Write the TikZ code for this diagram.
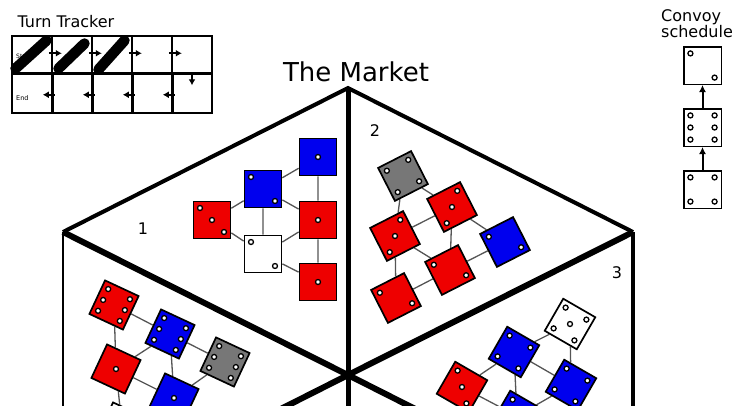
\documentclass[tikz,border=0pt]{standalone}
\usepackage{fontspec}
\setmainfont{DejaVu Sans}
\usetikzlibrary{
	arrows.meta,
	calc,
	backgrounds
}
\definecolor{DieRed}{HTML}{EE0000}
\definecolor{DieBlue}{HTML}{0000EE}
\definecolor{DieGray}{HTML}{777777}
\definecolor{LinkGray}{HTML}{555555}
\newcommand\diepips[2]{\foreach \a in {#2}{\draw[pip] ($(#1.center)!0.62!(#1.\a)$) circle (2.5pt);}}

\begin{document}
\begin{tikzpicture}[x=1pt,y=-1pt,
 font=\fontsize{16}{18}\selectfont,
 die/.style={draw=black,line width=1.7pt,minimum size=37pt,inner sep=0pt},
 reddie/.style={die,fill=DieRed},
 bluedie/.style={die,fill=DieBlue},
 graydie/.style={die,fill=DieGray},
 whitedie/.style={die,fill=white},
 pip/.style={draw=black,fill=white,line width=1.3pt},
 link/.style={draw=LinkGray,line width=1.3pt},
 wall/.style={line width=6pt},
 cell/.style={draw,line width=1.6pt,minimum width=40pt,minimum height=38.5pt,inner sep=0pt},
 pill/.style={line width=10.5pt,line cap=round},
 turn/.style={-{Latex[length=6pt,width=7pt]},line width=2pt},
 sched/.style={-{Latex[length=7pt,width=7pt]},line width=2pt}
]
 \useasboundingbox (0,0) rectangle (742,405);
 \clip (0,0) rectangle (742,405);

 \coordinate (top) at (348,88);
 \coordinate (ul) at (63,232);
 \coordinate (ur) at (633,232);
 \coordinate (mid) at (348,375);
 \coordinate (ll) at (63,519);
 \coordinate (lr) at (633,519);
 \coordinate (bot) at (348,662);
 \draw[line width=4pt] (ul)--(top)--(ur);
 \draw[line width=2pt] (ul)--(ll);
 \draw[line width=3.5pt] (ur)--(lr);
 \draw[wall] (mid)--(ul) (mid)--(ur) (mid)--(ll) (mid)--(lr);
 \draw[line width=5pt] (top)--(bot);

 \node[font=\fontsize{26}{30}\selectfont] (title) at (356,72) {The Market};
 \node (n1) at (143,229) {1};
 \node (n2) at (375,131) {2};
 \node (n3) at (617,273) {3};

 % market 1
 \node[bluedie] (a1) at (318,157) {};
 \node[bluedie] (b1) at (263,189) {};
 \node[reddie] (c1) at (212,220) {};
 \node[reddie] (d1) at (318,220) {};
 \node[whitedie] (e1) at (263,254) {};
 \node[reddie] (f1) at (318,282) {};
 \diepips{a1}{center}
 \diepips{b1}{north west,south east}
 \diepips{c1}{north west,center,south east}
 \diepips{d1}{center}
 \diepips{e1}{north west,south east}
 \diepips{f1}{center}

 % market 2
 \node[graydie,rotate=27] (a2) at (403,176) {};
 \node[reddie,rotate=27] (b2) at (452,207) {};
 \node[reddie,rotate=27] (c2) at (395,236) {};
 \node[bluedie,rotate=27] (d2) at (505,242) {};
 \node[reddie,rotate=27] (e2) at (450,270) {};
 \node[reddie,rotate=27] (f2) at (396,298) {};
 \diepips{a2}{north west,north east,south west,south east}
 \diepips{b2}{north east,center,south west}
 \diepips{c2}{north east,center,south west}
 \diepips{d2}{north west,south east}
 \diepips{e2}{north west,south east}
 \diepips{f2}{north west,south east}

 % market 3
 \node[whitedie,rotate=-30] (a3) at (570,324) {};
 \node[bluedie,rotate=-30] (b3) at (514,352) {};
 \node[bluedie,rotate=-30] (c3) at (571,385) {};
 \node[reddie,rotate=-30] (d3) at (462,387) {};
 \node[bluedie,rotate=-30] (e3) at (517,416) {};
 \diepips{a3}{north west,north east,center,south west,south east}
 \diepips{b3}{north west,north east,south west,south east}
 \diepips{c3}{north west,north east,south west,south east}
 \diepips{d3}{north west,center,south east}
 \diepips{e3}{north west,south east}

 % market below 1
 \node[reddie,rotate=-25] (a4) at (114,305) {};
 \node[bluedie,rotate=-25] (b4) at (170,334) {};
 \node[graydie,rotate=-25] (c4) at (225,362) {};
 \node[reddie,rotate=-25] (d4) at (116,369) {};
 \node[bluedie,rotate=-25] (e4) at (174,398) {};
 \node[whitedie,rotate=-25] (f4) at (122,427) {};
 \diepips{a4}{north west,west,south west,north east,east,south east}
 \diepips{b4}{north west,west,south west,north east,east,south east}
 \diepips{c4}{north west,west,south west,north east,east,south east}
 \diepips{d4}{center}
 \diepips{e4}{center}

 \begin{scope}[on background layer]
  \draw[link] (a1)--(b1) (a1)--(d1) (b1)--(c1) (b1)--(d1) (b1)--(e1)
    (c1)--(e1) (e1)--(d1) (e1)--(f1) (d1)--(f1);
  \draw[link] (a2)--(c2) (a2)--(b2) (c2)--(b2) (b2)--(d2) (c2)--(e2)
    (b2)--(e2) (e2)--(d2) (c2)--(f2) (f2)--(e2);
  \draw[link] (a3)--(b3) (a3)--(c3) (b3)--(d3) (b3)--(c3) (b3)--(e3)
    (d3)--(e3) (e3)--(c3);
  \draw[link] (a4)--(b4) (a4)--(d4) (b4)--(d4) (b4)--(c4) (b4)--(e4)
    (d4)--(e4) (c4)--(e4) (d4)--(f4);
 \end{scope}

 % turn tracker
 \node[anchor=base west] (tracker) at (14,27) {Turn Tracker};
 \foreach \i in {1,...,5}{
  \node[cell] (t\i) at ({40*\i-8},55.25) {};
  \node[cell] (e\i) at ({40*\i-8},93.75) {};
 }
 \draw[line width=3.2pt] (e1.north west)--(e5.north east);
 \foreach \i in {1,...,4}
  \draw[line width=2.8pt] (e\i.north east)--(e\i.south east);
 \node[anchor=west,font=\fontsize{6}{7}\selectfont,inner sep=0pt] (start) at (16,56) {Start};
 \node[anchor=west,font=\fontsize{6.5}{7}\selectfont,inner sep=0pt] (end) at (16,98) {End};
 \foreach \i in {1,...,4}{
  \draw[turn] ([shift={(-4pt,2pt)}]t\i.east)--([shift={(9pt,2pt)}]t\i.east);
  \draw[turn] ([shift={(2pt,-1pt)}]e\i.east)--([shift={(-10pt,-1pt)}]e\i.east);
 }
 \draw[turn] ([yshift=3pt]t5.south)--([yshift=-10pt]t5.south);
 \draw[pill] ($(t1.center)+(-16.5,13.25)$)--($(t1.center)+(14.5,-14.75)$);
 \draw[pill] ($(t2.center)+(-13.5,13.25)$)--($(t2.center)+(12.5,-11.75)$);
 \draw[pill] ($(t3.center)+(-13.5,14.25)$)--($(t3.center)+(12.5,-14.75)$);

 % convoy
 \node[anchor=north west,align=left,inner sep=0pt,font=\fontsize{16}{15}\selectfont]
   (convoy) at (661,9) {Convoy\\schedule};
 \node[whitedie,minimum size=37.5pt,line width=1.5pt] (v1) at (702.5,65.5) {};
 \node[whitedie,minimum size=37.5pt,line width=1.5pt] (v2) at (702.5,127.5) {};
 \node[whitedie,minimum size=37.5pt,line width=1.5pt] (v3) at (702.5,189.5) {};
 \diepips{v1}{north west,south east}
 \diepips{v2}{north west,west,south west,north east,east,south east}
 \diepips{v3}{north west,north east,south west,south east}
 \draw[sched] (v3)--(v2);
 \draw[sched] (v2)--(v1);
\end{tikzpicture}
\end{document}
